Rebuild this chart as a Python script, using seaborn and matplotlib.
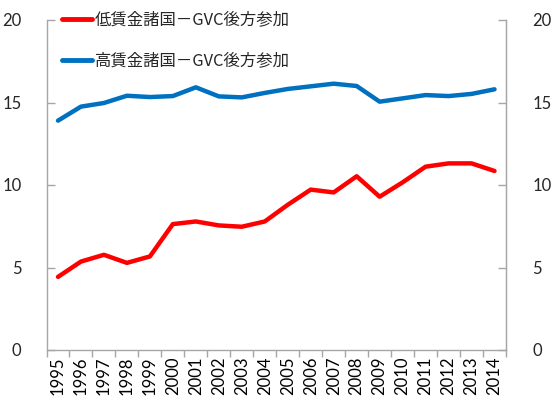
import seaborn as sns
import matplotlib.pyplot as plt
import pandas as pd
from matplotlib.ticker import FixedLocator, NullFormatter

years = list(range(1995, 2015))
low_wage = [4.43, 5.36, 5.77, 5.28, 5.67, 7.63, 7.79, 7.55, 7.47, 7.79,
            8.80, 9.72, 9.55, 10.53, 9.29, 10.16, 11.11, 11.31, 11.31, 10.85]
high_wage = [13.90, 14.75, 14.97, 15.41, 15.33, 15.39, 15.92, 15.37, 15.31, 15.58,
             15.82, 15.98, 16.14, 16.00, 15.05, 15.25, 15.45, 15.39, 15.52, 15.80]
labels = ['低賃金諸国－GVC後方参加', '高賃金諸国－GVC後方参加']
colors = ['#ff0000', '#0070c0']
yticks = [0, 5, 10, 15, 20]

sns.set_style('white')
plt.rcParams['font.family'] = ['Noto Sans CJK JP', 'DejaVu Sans']

df = pd.DataFrame({
    'year': years * 2,
    'value': low_wage + high_wage,
    'series': [labels[0]] * len(years) + [labels[1]] * len(years),
})

fig = plt.figure(figsize=(5.58, 4.12), dpi=100)
ax = fig.add_axes([46.5 / 558, 1 - 350 / 412, (506 - 46.5) / 558, (350 - 20) / 412])

sns.lineplot(data=df, x='year', y='value', hue='series', hue_order=labels,
             palette=colors, linewidth=3.2, ax=ax, legend=True)

ax.set_xlim(years[0] - 0.5, years[-1] + 0.5)
ax.set_ylim(0, 20)
ax.set_xlabel('')
ax.set_ylabel('')

grey = '#a6a6a6'
ax.spines['top'].set_visible(False)
for side in ['left', 'bottom', 'right']:
    ax.spines[side].set_color(grey)
    ax.spines[side].set_linewidth(1)

# category axis: labels at centers, tick marks at boundaries
ax.xaxis.set_major_locator(FixedLocator(years))
ax.set_xticklabels([str(y) for y in years], rotation=90, fontfamily='Lato', fontsize=12)
ax.tick_params(axis='x', which='major', length=0, pad=5, labelcolor='black')
ax.xaxis.set_minor_locator(FixedLocator([y - 0.5 for y in years] + [years[-1] + 0.5]))
ax.xaxis.set_minor_formatter(NullFormatter())
ax.tick_params(axis='x', which='minor', bottom=True, length=5, width=1, color=grey, direction='out')

ax.set_yticks(yticks)
ax.set_yticklabels([str(v) for v in yticks], fontfamily='Lato', fontsize=12)
ax.tick_params(axis='y', left=True, direction='in', length=6, width=1, color=grey, pad=18)

ax2 = ax.twinx()
ax2.set_ylim(0, 20)
ax2.set_yticks(yticks)
ax2.set_yticklabels([str(v) for v in yticks], fontfamily='Lato', fontsize=12)
ax2.tick_params(axis='y', right=True, direction='in', length=6, width=1, color=grey, pad=19)
for side in ['top', 'left', 'bottom']:
    ax2.spines[side].set_visible(False)
ax2.spines['right'].set_color(grey)

leg = ax.legend(loc='upper left', bbox_to_anchor=(0.02, 1.045), frameon=False,
                fontsize=11.8, handlelength=1.8, handletextpad=0.2, labelspacing=1.45,
                borderaxespad=0)
for line in leg.get_lines():
    line.set_linewidth(3.5)

fig.savefig('out.png', dpi=100)
